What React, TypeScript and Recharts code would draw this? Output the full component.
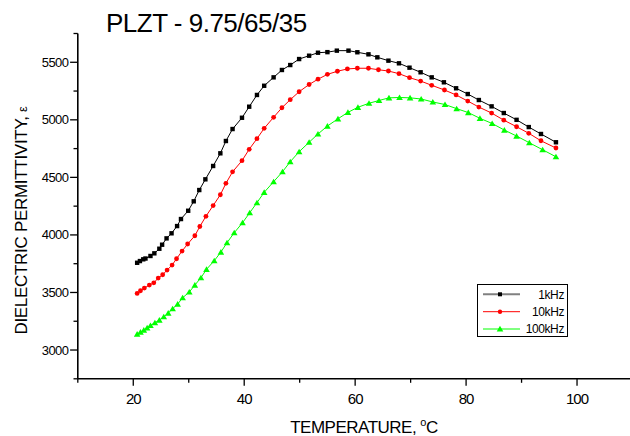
import { LineChart, Line, XAxis, YAxis } from 'recharts'

// temperature (°C) and permittivity per frequency
const t1k = [20.7, 21.2, 21.8, 22.2, 23.1, 23.8, 24.7, 25.2, 26.0, 26.9, 27.9, 28.6, 29.9, 30.9, 31.9, 33.0, 34.4, 35.7, 36.7, 37.9, 39.6, 40.9, 42.3, 43.6, 45.3, 46.8, 48.3, 49.9, 51.7, 53.3, 55.0, 56.7, 58.8, 60.4, 62.4, 64.0, 66.0, 67.9, 69.8, 71.8, 73.8, 76.0, 78.2, 80.3, 82.3, 84.6, 86.8, 89.1, 91.3, 93.5, 96.2]
const e1k = [3758, 3773, 3788, 3795, 3817, 3840, 3880, 3915, 3970, 4014, 4077, 4138, 4210, 4292, 4390, 4483, 4599, 4709, 4816, 4920, 5018, 5114, 5216, 5296, 5369, 5433, 5476, 5528, 5557, 5583, 5588, 5601, 5601, 5587, 5569, 5543, 5514, 5491, 5453, 5413, 5369, 5326, 5274, 5224, 5172, 5117, 5059, 5000, 4937, 4877, 4805]

const t10k = [20.7, 21.3, 22.0, 22.9, 23.7, 24.5, 25.3, 26.1, 27.0, 27.8, 28.8, 29.8, 31.1, 32.0, 33.1, 34.4, 35.7, 36.7, 37.9, 39.6, 40.9, 42.3, 43.6, 45.3, 46.8, 48.3, 49.9, 51.7, 53.3, 55.0, 56.8, 58.6, 60.4, 62.4, 64.2, 66.0, 67.9, 69.8, 71.8, 73.8, 76.1, 78.2, 80.3, 82.3, 84.6, 86.8, 89.1, 91.3, 93.5, 96.2]
const e10k = [3492, 3515, 3538, 3564, 3584, 3625, 3654, 3695, 3738, 3793, 3860, 3921, 3993, 4073, 4162, 4255, 4349, 4448, 4548, 4645, 4744, 4836, 4926, 5022, 5105, 5175, 5244, 5307, 5353, 5395, 5422, 5442, 5448, 5448, 5435, 5424, 5401, 5366, 5337, 5300, 5259, 5216, 5163, 5111, 5059, 4997, 4940, 4883, 4818, 4755]

const t100k = [20.7, 21.3, 21.9, 22.5, 23.1, 23.9, 24.7, 25.5, 26.3, 27.1, 28.0, 28.9, 30.1, 31.1, 32.2, 33.2, 34.6, 35.8, 36.9, 38.2, 39.7, 41.0, 42.3, 43.6, 45.3, 46.9, 48.3, 49.9, 51.7, 53.3, 55.0, 56.9, 58.7, 60.5, 62.5, 64.3, 66.1, 68.0, 69.9, 71.9, 74.0, 76.2, 78.3, 80.4, 82.5, 84.7, 86.9, 89.1, 91.4, 93.8, 96.2]
const e100k = [3139, 3156, 3173, 3193, 3214, 3237, 3260, 3289, 3321, 3359, 3399, 3454, 3504, 3564, 3628, 3701, 3776, 3851, 3932, 4019, 4106, 4193, 4280, 4370, 4462, 4549, 4636, 4723, 4805, 4877, 4946, 5009, 5065, 5109, 5144, 5168, 5191, 5194, 5191, 5181, 5155, 5133, 5097, 5063, 5013, 4968, 4911, 4859, 4801, 4740, 4679]

const xTicks = [10, 20, 30, 40, 50, 60, 70, 80, 90, 100, 110]
const xLabels = [20, 40, 60, 80, 100]
const yTicks = [2750, 3000, 3250, 3500, 3750, 4000, 4250, 4500, 4750, 5000, 5250, 5500, 5750]
const yLabels = [3000, 3500, 4000, 4500, 5000, 5500]

const rows = (t: number[], e: number[]) => t.map((v, i) => ({ t: v, e: e[i] }))

const FONT = '"Liberation Sans", Arial, sans-serif'

function XTick({ x, y, payload }: any) {
  const major = xLabels.includes(payload.value)
  return (
    <g>
      <line x1={x} x2={x} y1={y} y2={y + (major ? 7 : 4)} stroke="#000" strokeWidth={1.3} />
      {major && (
        <text x={x} y={y + 25} textAnchor="middle" fontSize={15} letterSpacing={-1} fill="#000" fontFamily={FONT}>
          {payload.value}
        </text>
      )}
    </g>
  )
}

function YTick({ x, y, payload }: any) {
  const major = yLabels.includes(payload.value)
  return (
    <g>
      <line x1={x} x2={x - (major ? 7.7 : 4.3)} y1={y} y2={y} stroke="#000" strokeWidth={1.3} />
      {major && (
        <text x={x - 9.5} y={y + 4.5} textAnchor="end" fontSize={13} letterSpacing={-0.6} fill="#000" fontFamily={FONT}>
          {payload.value}
        </text>
      )}
    </g>
  )
}

const square = (p: any) => <rect key={`s${p.index}`} x={p.cx - 2.2} y={p.cy - 2.2} width={4.4} height={4.4} fill="#000" />
const circle = (p: any) => <circle key={`c${p.index}`} cx={p.cx} cy={p.cy} r={2.4} fill="#ff0000" />
const triangle = (p: any) => (
  <polygon key={`t${p.index}`} points={`${p.cx - 3.3},${p.cy + 2.6} ${p.cx + 3.3},${p.cy + 2.6} ${p.cx},${p.cy - 3}`} fill="#00ff00" />
)

export default function App() {
  return (
    <div style={{ position: 'fixed', left: 0, top: 0, width: 630, height: 436, overflow: 'hidden', background: '#fff', fontFamily: FONT }}>
      <LineChart width={640} height={436} margin={{ top: 33.5, right: 7.5, bottom: 0, left: 0 }}>
        <XAxis
          type="number"
          dataKey="t"
          domain={[10, 110]}
          ticks={xTicks}
          interval={0}
          height={57.2}
          tickSize={0}
          tickMargin={0}
          tickLine={false}
          tick={<XTick />}
          axisLine={{ stroke: '#000', strokeWidth: 1.6 }}
          allowDataOverflow
        />
        <YAxis
          type="number"
          dataKey="e"
          domain={[2750, 5750]}
          ticks={yTicks}
          interval={0}
          width={77.8}
          tickSize={0}
          tickMargin={0}
          tickLine={false}
          tick={<YTick />}
          axisLine={{ stroke: '#000', strokeWidth: 1.6 }}
          allowDataOverflow
        />
        <Line data={rows(t1k, e1k)} dataKey="e" type="linear" stroke="#000" strokeWidth={1} dot={square} activeDot={false} isAnimationActive={false} />
        <Line data={rows(t10k, e10k)} dataKey="e" type="linear" stroke="#ff0000" strokeWidth={1} dot={circle} activeDot={false} isAnimationActive={false} />
        <Line data={rows(t100k, e100k)} dataKey="e" type="linear" stroke="#00ff00" strokeWidth={1} dot={triangle} activeDot={false} isAnimationActive={false} />
      </LineChart>

      <svg width={630} height={436} style={{ position: 'absolute', left: 0, top: 0, pointerEvents: 'none' }} fontFamily={FONT}>
        <text x={106} y={31.7} fontSize={26} letterSpacing={-0.5} fill="#000">PLZT - 9.75/65/35</text>
        <text x={364} y={433.3} textAnchor="middle" fontSize={17} letterSpacing={-0.5} fill="#000">
          TEMPERATURE, <tspan fontSize={11} dy={-7}>o</tspan><tspan dy={7}>C</tspan>
        </text>
        <text transform="translate(26.5,220.5) rotate(-90)" textAnchor="middle" fontSize={17} letterSpacing={-0.3} fill="#000">
          DIELECTRIC PERMITTIVITY, <tspan fontSize={13}>ε</tspan>
        </text>

        {/* legend */}
        <rect x={477.5} y={284.5} width={90} height={52} fill="#fff" stroke="#000" strokeWidth={1} />
        <line x1={483} x2={520} y1={294.3} y2={294.3} stroke="#808080" strokeWidth={2} />
        <rect x={498} y={292.3} width={4} height={4} fill="#000" />
        <text x={564} y={298.5} textAnchor="end" fontSize={12} letterSpacing={-0.4} fill="#000">1kHz</text>
        <line x1={483} x2={520} y1={311.7} y2={311.7} stroke="#ff0000" strokeWidth={1} />
        <circle cx={500} cy={311.7} r={2.2} fill="#ff0000" />
        <text x={564} y={316} textAnchor="end" fontSize={12} letterSpacing={-0.4} fill="#000">10kHz</text>
        <line x1={483} x2={520} y1={329} y2={329} stroke="#00ff00" strokeWidth={1} />
        <polygon points="496.7,331.6 503.3,331.6 500,325.8" fill="#00ff00" />
        <text x={564} y={333.3} textAnchor="end" fontSize={12} letterSpacing={-0.4} fill="#000">100kHz</text>
      </svg>
    </div>
  )
}
